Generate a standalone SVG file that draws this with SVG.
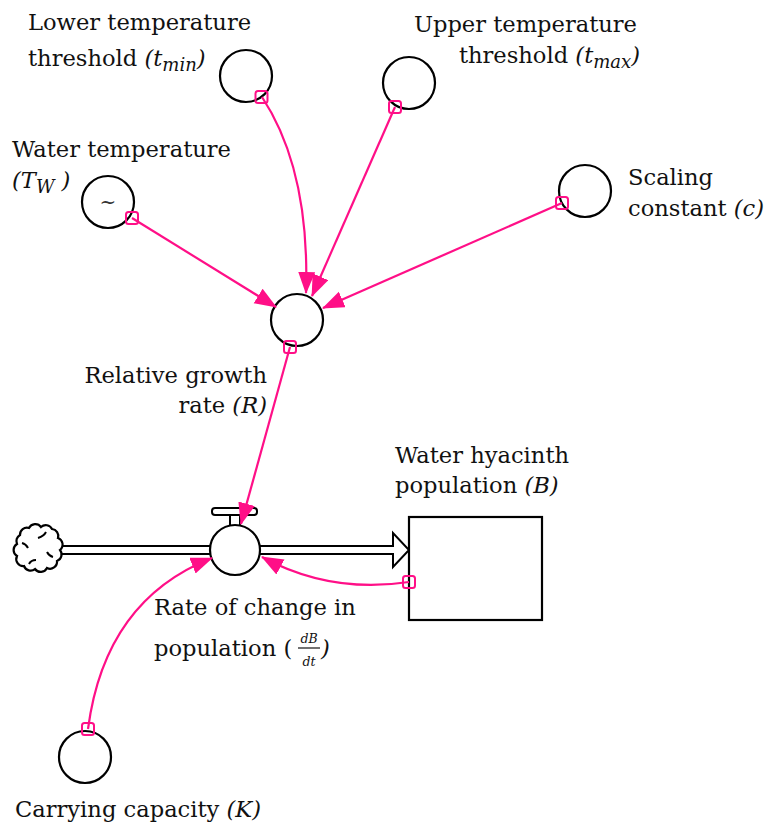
<svg xmlns="http://www.w3.org/2000/svg" width="766" height="823" viewBox="0 0 766 823">
<defs>
<marker id="ah" markerUnits="userSpaceOnUse" markerWidth="24" markerHeight="20" refX="21" refY="8.5" orient="auto">
<path d="M0,0 L22,8.5 L0,17 z" fill="#ff0f87"/>
</marker>
<style>
.lbl{font-family:"DejaVu Serif","Liberation Serif",serif;font-size:22.6px;fill:#111}
.it{font-style:italic}
.sub{font-size:18px;font-style:italic}
.node{fill:#fff;stroke:#000;stroke-width:2.2}
.link{fill:none;stroke:#ff0f87;stroke-width:2.2;marker-end:url(#ah)}
.tap{fill:#fff;fill-opacity:0;stroke:#ff0f87;stroke-width:2}
</style>
</defs>
<rect width="766" height="823" fill="#fff"/>

<g id="flow">
<path d="M61,546 H393 V533 L409,550 L393,567 V554 H61" fill="#fff" stroke="#000" stroke-width="2"/>
</g>

<g id="cloud">
<path d="M20,535 a7,7 0 0 1 9,-7 a7,7 0 0 1 12,-1 a7,7 0 0 1 11,2 a7,7 0 0 1 6,9 a7,7 0 0 1 2,12 a7,7 0 0 1 -3,11 a7,7 0 0 1 -10,7 a7,7 0 0 1 -12,1 a7,7 0 0 1 -11,-3 a7,7 0 0 1 -7,-10 a7,7 0 0 1 0,-12 a7,7 0 0 1 3,-9 z" fill="#fff" stroke="#000" stroke-width="2.2"/>
<path d="M38,538 q6,-2 8,-6 M47,552 q2,4 6,5 M36,560 q-5,0 -7,4 M28,548 q-2,-4 -6,-5" fill="none" stroke="#000" stroke-width="2"/>
</g>

<g id="tmin">
<circle class="node" cx="246" cy="76" r="26"/>
<text class="lbl" x="28" y="30">Lower temperature</text>
<text class="lbl" x="28" y="66">threshold <tspan class="it">(t</tspan><tspan class="sub" dy="5">min</tspan><tspan class="it" dy="-5">)</tspan></text>
</g>

<g id="tmax">
<circle class="node" cx="409" cy="83" r="26"/>
<text class="lbl" x="637" y="32" text-anchor="end">Upper temperature</text>
<text class="lbl" x="640" y="63" text-anchor="end">threshold <tspan class="it">(t</tspan><tspan class="sub" dy="5">max</tspan><tspan class="it" dy="-5">)</tspan></text>
</g>

<g id="tw">
<circle class="node" cx="108" cy="202" r="26"/>
<text x="108" y="209" text-anchor="middle" font-family="DejaVu Serif,serif" font-size="20" fill="#333">~</text>
<text class="lbl" x="12" y="157">Water temperature</text>
<text class="lbl" x="12" y="188"><tspan class="it">(T</tspan><tspan class="sub" dy="5">W</tspan><tspan class="it" dy="-5"> )</tspan></text>
</g>

<g id="scaling">
<circle class="node" cx="585" cy="191" r="26"/>
<text class="lbl" x="628" y="185">Scaling</text>
<text class="lbl" x="628" y="216">constant <tspan class="it">(c)</tspan></text>
</g>

<g id="growth">
<circle class="node" cx="297" cy="320" r="26"/>
<text class="lbl" x="267" y="383" text-anchor="end">Relative growth</text>
<text class="lbl" x="267" y="413" text-anchor="end">rate <tspan class="it">(R)</tspan></text>
</g>

<g id="valve">
<rect x="230" y="514" width="10" height="12" fill="#fff" stroke="#000" stroke-width="2"/>
<rect x="212" y="508" width="45" height="7" rx="3" fill="#fff" stroke="#000" stroke-width="2"/>
<circle class="node" cx="235" cy="550" r="25"/>
<text class="lbl" x="154" y="615">Rate of change in</text>
<text class="lbl" x="154" y="656">population (</text>
<text x="309" y="643" text-anchor="middle" font-family="DejaVu Serif,serif" font-size="12.5" font-style="italic" fill="#111">dB</text>
<line x1="298" y1="648" x2="320" y2="648" stroke="#111" stroke-width="1.2"/>
<text x="309" y="666" text-anchor="middle" font-family="DejaVu Serif,serif" font-size="12.5" font-style="italic" fill="#111">dt</text>
<text class="lbl it" x="321" y="656">)</text>
</g>

<g id="stock">
<rect x="409" y="517" width="133" height="103" fill="#fff" stroke="#000" stroke-width="2.2"/>
<text class="lbl" x="395" y="463">Water hyacinth</text>
<text class="lbl" x="395" y="493">population <tspan class="it">(B)</tspan></text>
</g>

<g id="capacity">
<circle class="node" cx="85" cy="757" r="26"/>
<text class="lbl" x="15" y="817">Carrying capacity <tspan class="it">(K)</tspan></text>
</g>

<g id="connectors">
<path class="link" d="M262,97 Q310,170 306,293"/>
<path class="link" d="M395,107 L312,296"/>
<path class="link" d="M132,218 L276,307"/>
<path class="link" d="M562,203 L323,308"/>
<path class="link" d="M290,347 L241,524"/>
<path class="link" d="M409,582 Q330,594 262,557"/>
<path class="link" d="M88,729 Q105,600 212,558"/>
<rect class="tap" x="255.5" y="91" width="12" height="12" rx="2.5"/>
<rect class="tap" x="389" y="101" width="12" height="12" rx="2.5"/>
<rect class="tap" x="126" y="212" width="12" height="12" rx="2.5"/>
<rect class="tap" x="556" y="197" width="12" height="12" rx="2.5"/>
<rect class="tap" x="284" y="341" width="12" height="12" rx="2.5"/>
<rect class="tap" x="403" y="576" width="12" height="12" rx="2.5"/>
<rect class="tap" x="82" y="723" width="12" height="12" rx="2.5"/>
</g>
</svg>
